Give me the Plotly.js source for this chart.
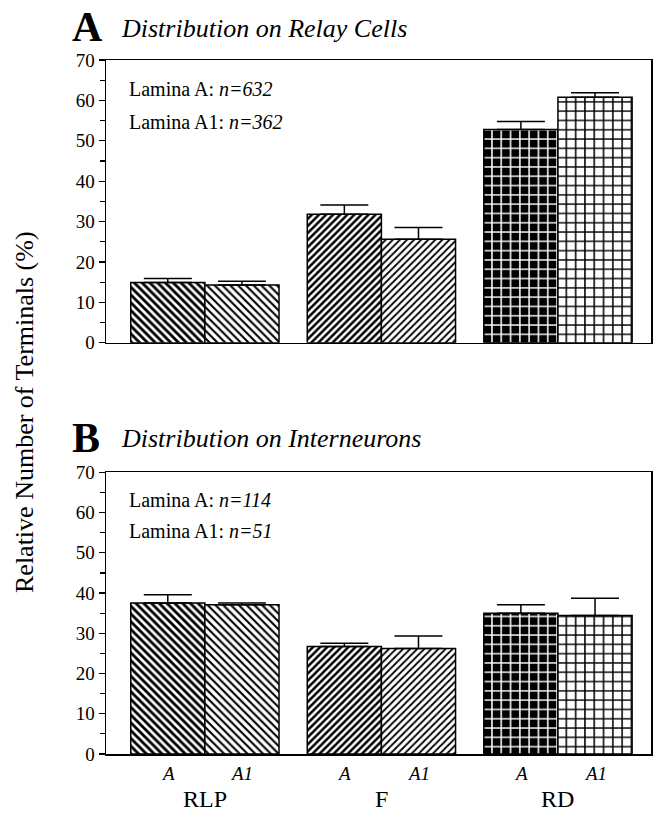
<!DOCTYPE html>
<html>
<head>
<meta charset="utf-8">
<script src="https://cdn.plot.ly/plotly-3.0.1.min.js"></script>
<style>html,body{margin:0;padding:0;background:#fff}</style>
</head>
<body>
<div id="chart" style="width:653px;height:814px"></div>
<script>
// ---- data ----
const categories = ["RLP", "F", "RD"];
const categoryPos = [0, 1, 2];
const laminae = ["A", "A1"];

// Panel A: Distribution on Relay Cells
const relayA = [14.9, 31.8, 52.8];
const relayA_err = [1.0, 2.3, 2.0];
const relayA1 = [14.3, 25.6, 60.8];
const relayA1_err = [0.9, 2.9, 1.1];
const relayN = {A: 632, A1: 362};

// Panel B: Distribution on Interneurons
const interA = [37.5, 26.7, 35.0];
const interA_err = [2.1, 0.8, 2.1];
const interA1 = [37.1, 26.2, 34.4];
const interA1_err = [0.4, 3.1, 4.3];
const interN = {A: 114, A1: 51};

const yTicks = [0, 10, 20, 30, 40, 50, 60, 70];

// ---- styles ----
const serif = "Liberation Serif";
const patternsA = [
  {shape: "\\", bgcolor: "white", fgcolor: "black", size: 5.5, solidity: 0.52},
  {shape: "/", bgcolor: "white", fgcolor: "black", size: 5.0, solidity: 0.5},
  {shape: "+", bgcolor: "black", fgcolor: "white", size: 9.3, solidity: 0.3}
];
const patternsA1 = [
  {shape: "\\", bgcolor: "white", fgcolor: "black", size: 5.5, solidity: 0.38},
  {shape: "/", bgcolor: "white", fgcolor: "black", size: 5.0, solidity: 0.36},
  {shape: "+", bgcolor: "white", fgcolor: "black", size: 9.3, solidity: 0.3}
];
const bargap = 0.16;
const barW = (1 - bargap) / 2;

function panelTraces(valsA, errA, valsA1, errA1, xa, ya) {
  const out = [];
  categoryPos.forEach((p, i) => {
    [[valsA, errA, patternsA, -barW], [valsA1, errA1, patternsA1, 0]].forEach(([v, e, pats, off], k) => {
      const pat = Object.assign({fillmode: "replace"}, pats[i]);
      out.push({
        type: "bar", name: categories[i] + " " + laminae[k],
        x: [p], y: [v[i]], width: barW, offset: off,
        xaxis: xa, yaxis: ya,
        marker: {color: pat.bgcolor, pattern: pat, line: {color: "black", width: 1.5}},
        error_y: {type: "data", symmetric: false, array: [e[i]], arrayminus: [0],
                  color: "black", thickness: 1.5, width: 24},
        showlegend: false, hoverinfo: "skip"
      });
    });
  });
  return out;
}

const data = [].concat(
  panelTraces(relayA, relayA_err, relayA1, relayA1_err, "x", "y"),
  panelTraces(interA, interA_err, interA1, interA1_err, "x2", "y2")
);

const yAxisCommon = {
  range: [0, 70], tickvals: yTicks, ticks: "outside", ticklen: 6, tickwidth: 1.2,
  tickcolor: "black", showline: true, linecolor: "black", linewidth: 1.5, mirror: true,
  showgrid: false, zeroline: false, fixedrange: true,
  tickfont: {family: serif, size: 19, color: "black"},
  minor: {dtick: 5, tick0: 0, ticks: "outside", ticklen: 5, tickwidth: 1.2, tickcolor: "black", showgrid: false}
};
const xAxisCommon = {
  range: [-0.56, 2.527], showline: true, linecolor: "black", linewidth: 1.5, mirror: true,
  showgrid: false, zeroline: false, ticks: "", showticklabels: false, fixedrange: true
};

const pxToPaperY = px => (754 - px) / 694;
const pxToPaperX = px => (px - 106) / 545;

const annotations = [];
function panelTitle(letter, text, cy) {
  annotations.push({xref: "paper", yref: "paper", x: pxToPaperX(70), y: pxToPaperY(cy),
    xanchor: "left", yanchor: "middle", showarrow: false, text: "<b>" + letter + "</b>",
    font: {family: serif, size: 42, color: "black"}});
  annotations.push({xref: "paper", yref: "paper", x: pxToPaperX(119), y: pxToPaperY(cy + 1),
    xanchor: "left", yanchor: "middle", showarrow: false, text: "<i>" + text + "</i>",
    font: {family: serif, size: 26, color: "black"}});
}
function laminaText(n, y1, y2) {
  annotations.push({xref: "paper", yref: "paper", x: pxToPaperX(127), y: pxToPaperY(y1),
    xanchor: "left", yanchor: "middle", showarrow: false,
    text: "Lamina " + laminae[0] + ": <i>n=" + n.A + "</i>", font: {family: serif, size: 20, color: "black"}});
  annotations.push({xref: "paper", yref: "paper", x: pxToPaperX(127), y: pxToPaperY(y2),
    xanchor: "left", yanchor: "middle", showarrow: false,
    text: "Lamina " + laminae[1] + ": <i>n=" + n.A1 + "</i>", font: {family: serif, size: 20, color: "black"}});
}
panelTitle("A", "Distribution on Relay Cells", 27);
panelTitle("B", "Distribution on Interneurons", 438);
laminaText(relayN, 89, 122);
laminaText(interN, 500, 531);

// sub labels A / A1 under each bar, and group labels, in bottom panel
categoryPos.forEach((p, i) => {
  laminae.forEach((l, k) => {
    annotations.push({xref: "x2", yref: "paper", x: p + (k === 0 ? -barW / 2 : barW / 2), y: 0,
      yanchor: "middle", yshift: -19, showarrow: false, text: "<i>" + l + "</i>",
      font: {family: serif, size: 19, color: "black"}});
  });
  annotations.push({xref: "x2", yref: "paper", x: p, y: 0,
    yanchor: "middle", yshift: -45, showarrow: false, text: categories[i],
    font: {family: serif, size: 24, color: "black"}});
});

// y-axis title
annotations.push({xref: "paper", yref: "paper", x: pxToPaperX(24), y: pxToPaperY(412),
  xanchor: "center", yanchor: "middle", textangle: -90, showarrow: false,
  text: "Relative Number of Terminals (%)", font: {family: serif, size: 26, color: "black"}});

const layout = {
  width: 653, height: 814,
  margin: {l: 106, r: 2, t: 60, b: 60, pad: 0},
  paper_bgcolor: "white", plot_bgcolor: "white",
  barmode: "overlay",
  xaxis: Object.assign({}, xAxisCommon, {domain: [0, 1], anchor: "y"}),
  yaxis: Object.assign({}, yAxisCommon, {domain: [pxToPaperY(342.7), 1], anchor: "x"}),
  xaxis2: Object.assign({}, xAxisCommon, {domain: [0, 1], anchor: "y2"}),
  yaxis2: Object.assign({}, yAxisCommon, {domain: [0, pxToPaperY(472.3)], anchor: "x2"}),
  annotations: annotations
};

Plotly.newPlot("chart", data, layout, {staticPlot: true, displayModeBar: false});
</script>
</body>
</html>
